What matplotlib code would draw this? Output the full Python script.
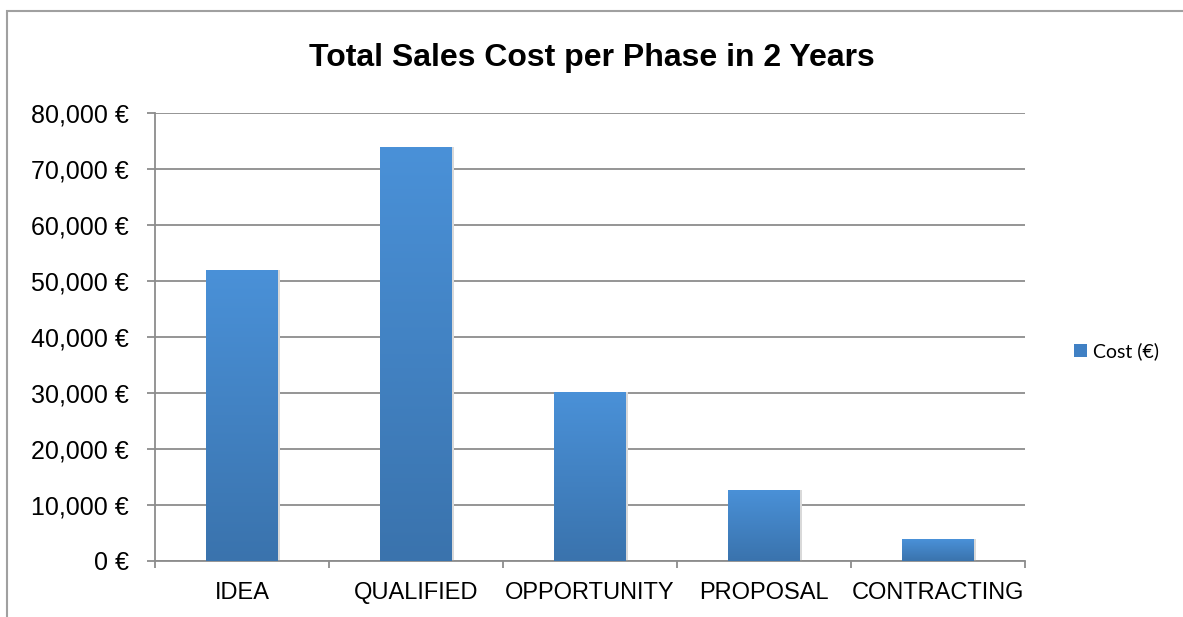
import matplotlib.pyplot as plt
import numpy as np
from matplotlib.colors import LinearSegmentedColormap
from matplotlib.patches import Rectangle, Patch
from matplotlib.ticker import FuncFormatter

# data
phases = ['IDEA', 'QUALIFIED', 'OPPORTUNITY', 'PROPOSAL', 'CONTRACTING']
cost = [52000, 73900, 30200, 12700, 3900]

plt.rcParams['font.family'] = ['Liberation Sans', 'DejaVu Sans']

fig = plt.figure(figsize=(11.83, 6.17), dpi=100)
ax = fig.add_axes([0.131, 0.0908, 0.7355, 0.7261])

x = np.arange(len(phases))
bars = ax.bar(x, cost, width=0.41, color='#4485c9', zorder=3)

# vertical gradient inside each bar (lighter on top)
grad = LinearSegmentedColormap.from_list('g', ['#3a73ad', '#4a91d8'])
g = np.linspace(0, 1, 256).reshape(-1, 1)
for b in bars:
    x0, y0 = b.get_x(), b.get_y()
    w, h = b.get_width(), b.get_height()
    im = ax.imshow(g, cmap=grad, aspect='auto', origin='lower',
                   extent=[x0, x0 + w, y0, y0 + h], zorder=4)
    im.set_clip_path(b)
    # faint shadow on the right
    ax.add_patch(Rectangle((x0 + w, y0), 0.012, h, color='#d9d9d9', zorder=2, lw=0))

ax.set_xlim(-0.5, len(phases) - 0.5)
ax.set_ylim(0, 80000)
ax.set_yticks(np.arange(0, 80001, 10000))
ax.yaxis.set_major_formatter(FuncFormatter(lambda v, p: f'{int(v):,} €'))
ax.set_xticks(x)
ax.set_xticklabels(phases)
ax.set_xticks(np.arange(-0.5, len(phases), 1), minor=True)

ax.grid(axis='y', color='#8c8c8c', lw=1.3, zorder=1)
for s in ['top', 'right']:
    ax.spines[s].set_visible(False)
for s in ['left', 'bottom']:
    ax.spines[s].set_color('#8c8c8c')
    ax.spines[s].set_linewidth(1.3)

ax.tick_params(axis='y', labelsize=18, length=6, width=1.3, color='#8c8c8c', pad=13)
ax.tick_params(axis='x', which='major', labelsize=17, length=0, pad=15)
ax.tick_params(axis='x', which='minor', length=5, width=1.3, color='#8c8c8c')
ax.set_facecolor('white')

fig.text(0.5, 0.906, 'Total Sales Cost per Phase in 2 Years', ha='center', va='center',
         fontsize=23, fontweight='bold')

leg = fig.legend(handles=[Patch(facecolor='#4080c4', label='Cost (€)')],
                 loc='center left', bbox_to_anchor=(0.893, 0.43), frameon=False,
                 prop={'family': ['Lato', 'DejaVu Sans'], 'size': 14},
                 handlelength=0.65, handleheight=0.65, handletextpad=0.35)

# outer chart border
fig.add_artist(Rectangle((7 / 1183, -0.05), 1.1, 1 - 11 / 617 + 0.05, transform=fig.transFigure,
                         fill=False, edgecolor='#a0a0a0', lw=1.5))

fig.savefig('out.png', dpi=100)
